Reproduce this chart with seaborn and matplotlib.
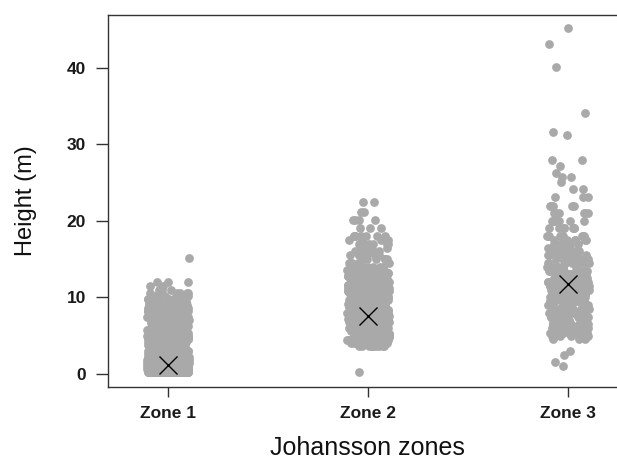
import numpy as np
import pandas as pd
import seaborn as sns
import matplotlib.pyplot as plt

# tree heights (m), grouped by height class with counts
zones = ["Zone 1", "Zone 2", "Zone 3"]

zone1_heights = [0.2, 0.6, 1.0, 1.4, 1.8, 2.2, 2.6, 3.0, 3.4, 3.8, 4.2, 4.6, 5.0, 5.4, 5.8,
                 6.2, 6.6, 7.0, 7.4, 7.8, 8.2, 8.6, 9.0, 9.4, 9.8, 10.2, 10.6, 11.0, 11.5, 12.0, 15.1]
zone1_counts = [150, 90, 60, 45, 35, 30, 26, 24, 22, 20, 20, 20, 20, 20, 20,
                20, 20, 20, 20, 20, 20, 20, 18, 18, 16, 8, 5, 3, 2, 3, 1]

zone2_heights = [0.2, 3.6, 4.0, 4.4, 4.8, 5.2, 5.6, 6.0, 6.4, 6.8, 7.2, 7.6, 8.0, 8.4, 8.8,
                 9.2, 9.6, 10.0, 10.4, 10.8, 11.2, 11.6, 12.0, 12.4, 12.8, 13.2, 13.6, 14.0,
                 14.5, 15.0, 15.5, 16.0, 16.5, 17.0, 17.5, 18.0, 19.0, 20.1, 21.2, 22.5]
zone2_counts = [1, 10, 20, 20, 20, 20, 20, 20, 20, 20, 20, 20, 20, 20, 20,
                20, 20, 18, 18, 18, 18, 18, 16, 16, 16, 14, 12, 8,
                6, 6, 6, 6, 4, 6, 4, 8, 3, 4, 2, 2]

zone3_heights = [1.1, 1.6, 2.5, 3.0, 4.5, 5.0, 5.4, 6.0, 6.5, 7.0, 7.5, 8.0, 8.5, 9.0, 9.5,
                 10.0, 10.5, 11.0, 11.5, 12.0, 12.5, 13.0, 13.5, 14.0, 14.5, 15.0, 15.5, 16.0,
                 16.5, 17.0, 17.5, 18.0, 19.0, 20.0, 21.0, 22.0, 23.1, 24.1, 25.1, 25.7, 26.2,
                 27.2, 28.0, 31.2, 31.6, 34.1, 40.1, 43.1, 45.2]
zone3_counts = [1, 1, 1, 1, 3, 7, 9, 10, 11, 11, 11, 11, 11, 11, 11,
                11, 11, 11, 11, 11, 10, 10, 10, 9, 9, 9, 9, 8,
                8, 8, 7, 8, 7, 7, 6, 5, 3, 2, 1, 2, 1,
                1, 2, 1, 1, 1, 1, 1, 1]

# mean height per zone (the X marks)
zone_means = [1.2, 7.6, 11.8]

heights = [zone1_heights, zone2_heights, zone3_heights]
counts = [zone1_counts, zone2_counts, zone3_counts]
df = pd.concat([
    pd.DataFrame({"zone": z, "height": np.repeat(h, c)})
    for z, h, c in zip(zones, heights, counts)
])
means = pd.DataFrame({"zone": zones, "height": zone_means})

sns.set_style("ticks")
plt.rcParams["font.family"] = ["Liberation Sans", "DejaVu Sans"]

np.random.seed(3)
fig = plt.figure(figsize=(6.17, 4.59), dpi=100)
ax = fig.add_axes([0.175, 0.157, 0.825, 0.8105])

sns.stripplot(data=df, x="zone", y="height", order=zones, color="#a9a9a9",
              size=6.3, linewidth=0, jitter=0.105, ax=ax, zorder=2)
sns.pointplot(data=means, x="zone", y="height", order=zones, color="black",
              errorbar=None, marker="x", linestyle="none", markersize=13,
              markeredgewidth=1.0, ax=ax, zorder=10)

ax.set_xlim(-0.3, 2.245)
ax.set_ylim(-1.7, 46.9)
ax.set_yticks([0, 10, 20, 30, 40])

for s in ["left", "top", "bottom"]:
    ax.spines[s].set_color("#333333")
    ax.spines[s].set_linewidth(1.0)
ax.spines["right"].set_visible(False)

ax.tick_params(axis="y", length=9, width=1, color="#333333", pad=7)
ax.tick_params(axis="x", length=7, width=1, color="#333333", pad=7)
for lab in ax.get_xticklabels() + ax.get_yticklabels():
    lab.set_fontsize(12.5)
    lab.set_fontweight("bold")
    lab.set_color("#1a1a1a")

ax.set_xlabel("Johansson zones", fontsize=18, color="#111111", va="baseline")
ax.set_ylabel("Height (m)", fontsize=17, color="#111111")
ax.xaxis.set_label_coords(0.509, -0.182)
ax.yaxis.set_label_coords(-0.14, 0.5)

plt.savefig("out.png", dpi=100)
